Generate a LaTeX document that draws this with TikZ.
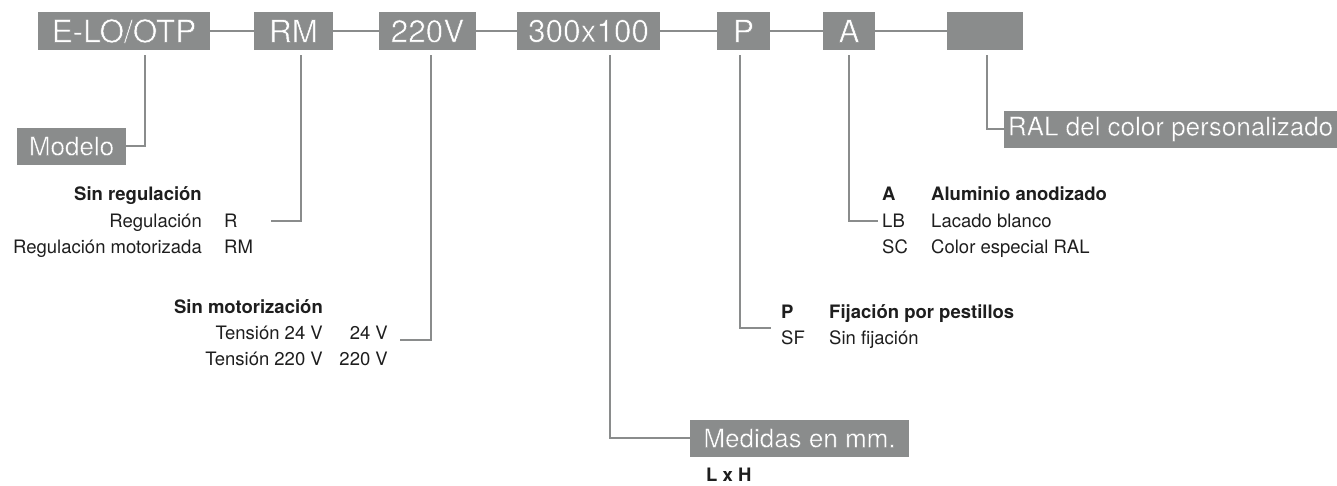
\documentclass[tikz,border=0pt]{standalone}
\usepackage{fontspec}
\setmainfont{TeX Gyre Heros}
\definecolor{boxgray}{HTML}{8A8C8C}
\definecolor{ink}{HTML}{1E1E1E}
\newcommand{\thinwhite}[2][0.5]{\special{pdf:literal direct 0.541 0.549 0.549 RG #1 w 2 Tr}#2\special{pdf:literal direct 0 Tr}}
\begin{document}
\begin{tikzpicture}[x=1pt,y=-1pt,
  topbox/.style={fill=boxgray,text=white,inner sep=0pt,minimum height=38pt,font=\fontsize{31.5}{31.5}\selectfont},
  labbox/.style={fill=boxgray,text=white,inner sep=0pt,minimum height=37pt,font=\fontsize{26}{26}\selectfont},
  conn/.style={draw=boxgray,line width=2.2pt},
  txt/.style={inner sep=0pt,text=ink,font=\fontsize{18.5}{18.5}\selectfont},
  btxt/.style={txt,font=\fontsize{18.5}{18.5}\selectfont\bfseries},
  lt/.style={txt,anchor=mid west},
  rt/.style={txt,anchor=mid east},
  blt/.style={btxt,anchor=mid west},
  brt/.style={btxt,anchor=mid east}]
\useasboundingbox (0,0) rectangle (1337,485);

% top row
\node[topbox,minimum width=172pt] (elo) at (124,31) {\thinwhite{E-LO/OTP}};
\node[topbox,minimum width=79pt] (rm) at (293.5,31) {\thinwhite{RM}};
\node[topbox,minimum width=97pt] (v220) at (427.5,31) {\thinwhite{220V}};
\node[topbox,minimum width=143pt] (dim) at (588.5,31) {\thinwhite{300x100}};
\node[topbox,minimum width=53pt] (p) at (743.5,31) {\thinwhite{P}};
\node[topbox,minimum width=52pt] (a) at (849,31) {\thinwhite{A}};
\node[topbox,minimum width=76pt] (ral0) at (985,31) {};

\draw[conn] (elo.east) -- (rm.west);
\draw[conn] (rm.east) -- (v220.west);
\draw[conn] (v220.east) -- (dim.west);
\draw[conn] (dim.east) -- (p.west);
\draw[conn] (p.east) -- (a.west);
\draw[conn] (a.east) -- (ral0.west);

% label boxes
\node[labbox,minimum width=109pt] (modelo) at (71.5,146) {\thinwhite[0.35]{Modelo}};
\node[labbox,minimum width=333pt] (ral) at (1170.5,129) {\thinwhite[0.35]{RAL del color personalizado}};
\node[labbox,minimum width=219pt] (medidas) at (799.5,438) {\thinwhite[0.35]{Medidas en mm.}};

% start points of the drops
\coordinate (eloT) at (145,55);
\coordinate (rmT) at (301,55);
\coordinate (v220T) at (431,55);
\coordinate (dimT) at (610,55);
\coordinate (pT) at (740,55);
\coordinate (aT) at (849,55);
\coordinate (ralT) at (987,55);
% free ends
\coordinate (rmE) at (271,221);
\coordinate (v220E) at (400,340);
\coordinate (pE) at (771,328);
\coordinate (aE) at (878,221);

\draw[conn] (eloT) |- (modelo.east);
\draw[conn] (rmT) |- (rmE);
\draw[conn] (v220T) |- (v220E);
\draw[conn] (dimT) |- (medidas.west);
\draw[conn] (pT) |- (pE);
\draw[conn] (aT) |- (aE);
\draw[conn] (ralT) |- (ral.west);

% regulation group
\node[brt] (sr) at (202,198) {Sin regulación};
\node[rt] (r1) at (202,225) {Regulación};
\node[rt] (r2) at (202,251) {Regulación motorizada};
\node[lt] (c1) at (224,225) {R};
\node[lt] (c2) at (224,251) {RM};

% motor group
\node[brt] (sm) at (323,311) {Sin motorización};
\node[rt] (t1) at (323,337) {Tensión 24 V};
\node[rt] (t2) at (323,363) {Tensión 220 V};
\node[rt] (v1) at (388,337) {24 V};
\node[rt] (v2) at (388,363) {220 V};

% fixing group
\node[blt] (pc) at (781,316) {P};
\node[blt] (pd) at (829,316) {Fijación por pestillos};
\node[lt] (sfc) at (781,342) {SF};
\node[lt] (sfd) at (829,342) {Sin fijación};

% finish group
\node[blt] (ac) at (882,198) {A};
\node[blt] (ad) at (931,198) {Aluminio anodizado};
\node[lt] (lbc) at (882,225) {LB};
\node[lt] (lbd) at (931,225) {Lacado blanco};
\node[lt] (scc) at (882,251) {SC};
\node[lt] (scd) at (931,251) {Color especial RAL};

% dimensions
\node[blt] (lxh) at (706,479) {L x H};
\end{tikzpicture}
\end{document}
